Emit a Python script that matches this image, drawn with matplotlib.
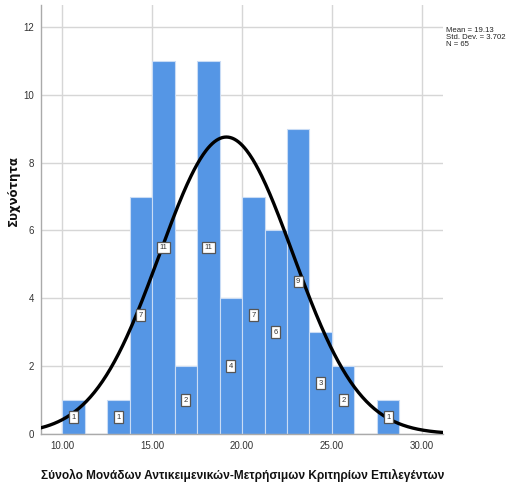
import numpy as np
import matplotlib.pyplot as plt

# histogram bins (width 1.25) and counts
bin_edges = [10.0, 11.25, 12.5, 13.75, 15.0, 16.25, 17.5, 18.75, 20.0,
             21.25, 22.5, 23.75, 25.0, 26.25, 27.5, 28.75]
counts = [1, 0, 1, 7, 11, 2, 11, 4, 7, 6, 9, 3, 2, 0, 1]

mean = 19.13
std = 3.702
n = 65

x_ticks = [10, 15, 20, 25, 30]
x_tick_labels = ["10.00", "15.00", "20.00", "25.00", "30.00"]
y_ticks = [0, 2, 4, 6, 8, 10, 12]

x_label = "Σύνολο Μονάδων Αντικειμενικών-Μετρήσιμων Κριτηρίων Επιλεγέντων"
y_label = "Συχνότητα"

plt.rcParams['font.family'] = ['Liberation Sans', 'DejaVu Sans']

fig = plt.figure(figsize=(5.07, 4.88), dpi=100)
ax = fig.add_axes([0.0809, 0.1107, 0.7929, 0.8791])

edges = np.array(bin_edges)
width = edges[1:] - edges[:-1]
left = edges[:-1]
ax.bar(left, counts, width=width, align="edge", color="#5596e5",
       edgecolor="#c9dcf5", linewidth=0.8, zorder=2)

# value labels at half bar height
for l, w, c in zip(left, width, counts):
    if c == 0:
        continue
    ax.text(l + w / 2, c / 2, str(c), ha="center", va="center", fontsize=5.5,
            color="#333333", zorder=4,
            bbox=dict(boxstyle="square,pad=0.3", fc="white", ec="#555555", lw=0.9))

# normal curve scaled to counts
xlim = (8.83, 31.17)
xs = np.linspace(xlim[0], xlim[1], 400)
bw = bin_edges[1] - bin_edges[0]
ys = n * bw / (std * np.sqrt(2 * np.pi)) * np.exp(-0.5 * ((xs - mean) / std) ** 2)
ax.plot(xs, ys, color="black", lw=2.4, zorder=3)

ax.set_xlim(*xlim)
ax.set_ylim(0, 12.65)
ax.set_xticks(x_ticks)
ax.set_xticklabels(x_tick_labels)
ax.set_yticks(y_ticks)
ax.tick_params(length=0, labelsize=7, colors="#333333", pad=5)
ax.grid(True, color="#d6d6d6", lw=1.0, zorder=0)
ax.set_axisbelow(True)
for s in ["top", "right"]:
    ax.spines[s].set_visible(False)
for s in ["left", "bottom"]:
    ax.spines[s].set_color("#aaaaaa")
    ax.spines[s].set_linewidth(1.0)

fig.text(0.5 * (55 + 430) / 507, 1 - 475 / 488, x_label, fontsize=8.6,
         fontweight="bold", ha="center", va="center", color="#111111")
fig.text(13 / 507, 1 - 190 / 488, y_label, fontsize=8.5, fontweight="bold",
         rotation=90, ha="center", va="center", color="#111111",
         family=['DejaVu Sans'])

fig.text(446 / 507, 1 - 27 / 488, "Mean = 19.13\nStd. Dev. = 3.702\nN = 65",
         fontsize=5.6, va="top", ha="left", linespacing=1.05, color="#222222")

fig.savefig("out.png", dpi=100)
